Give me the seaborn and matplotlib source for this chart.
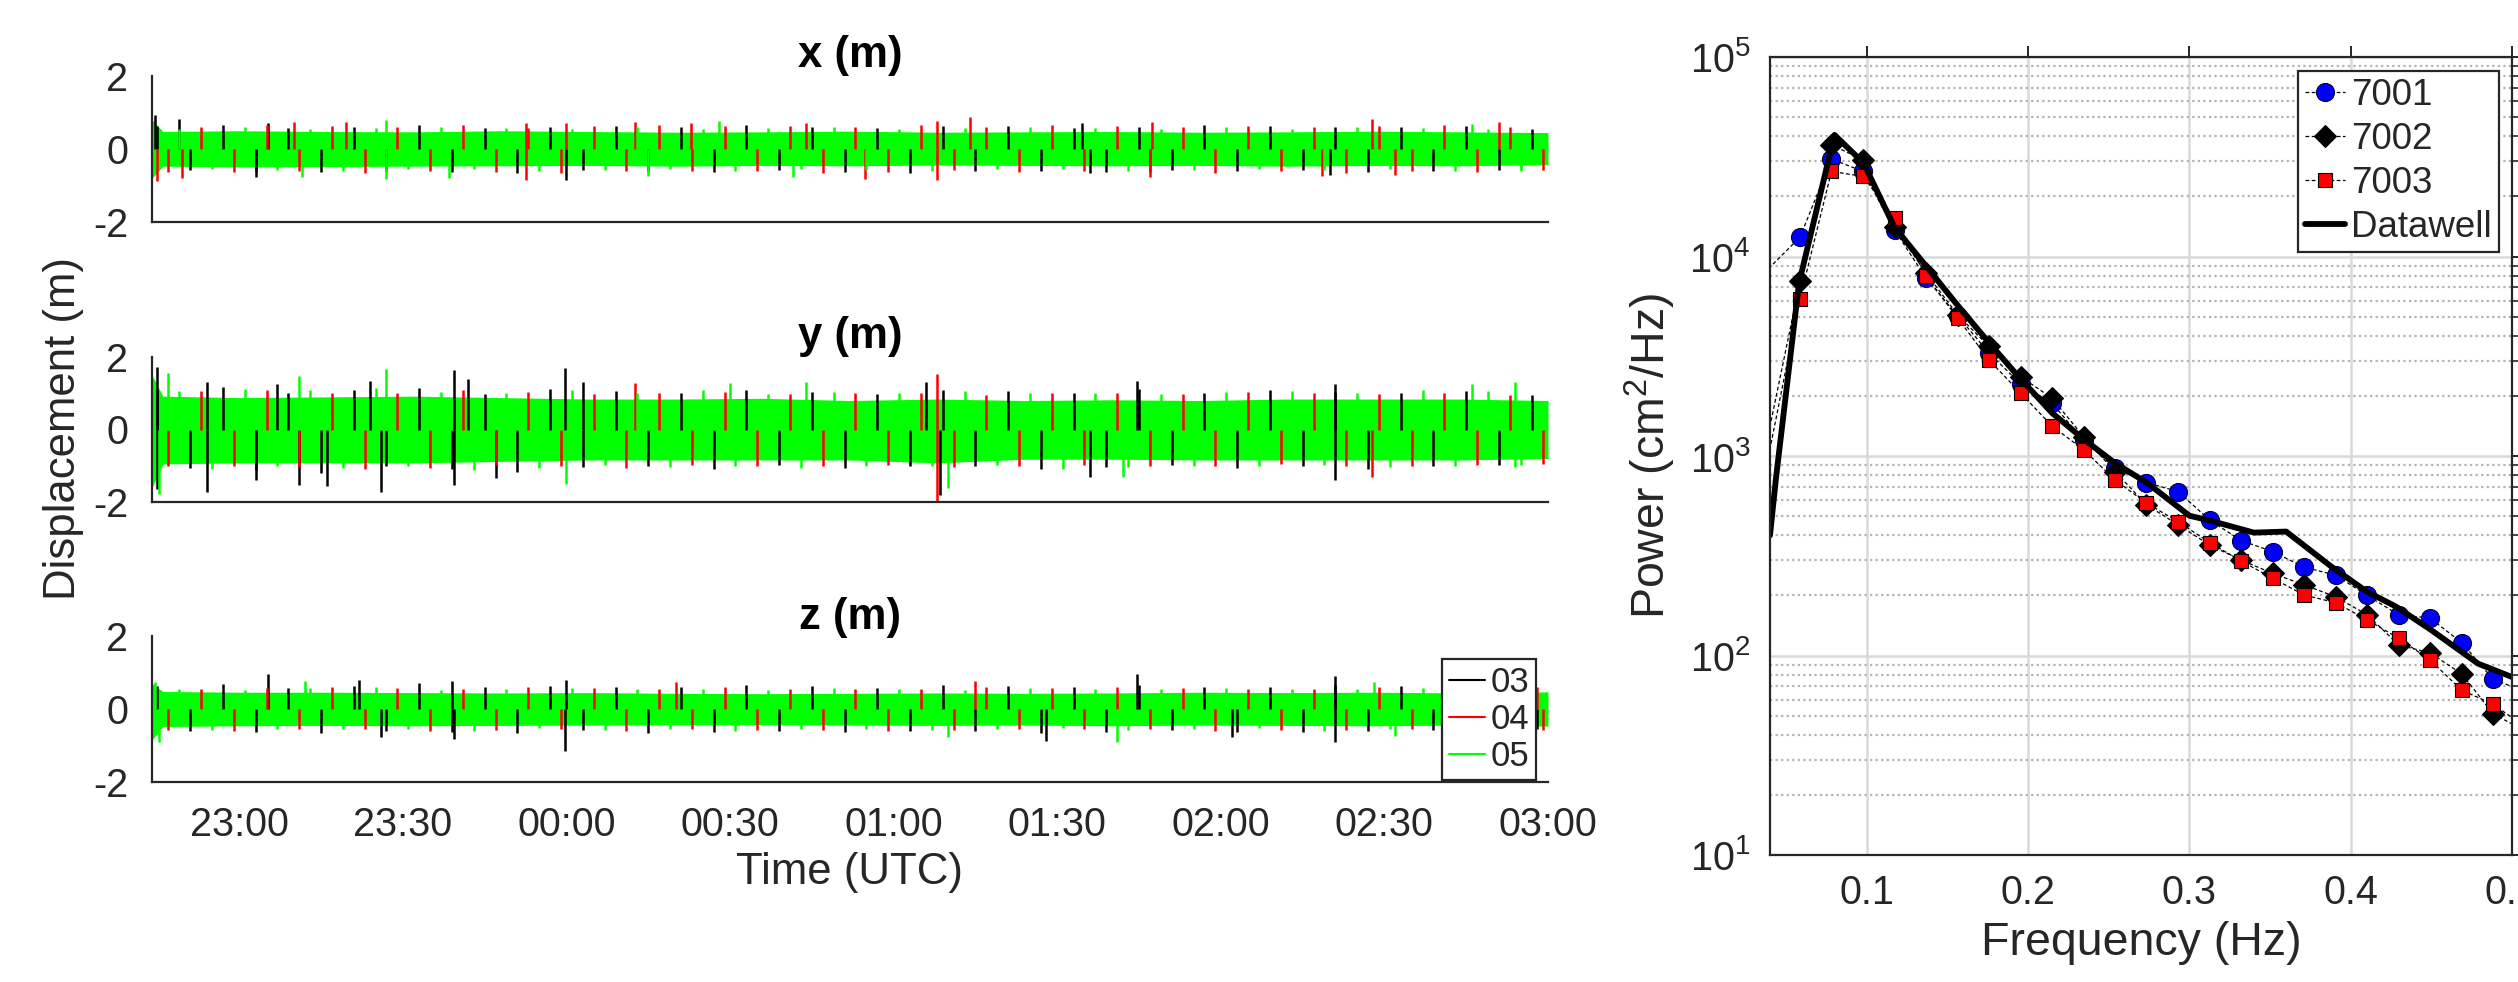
import numpy as np
import matplotlib
matplotlib.use("Agg")
import matplotlib.pyplot as plt
from matplotlib.lines import Line2D
from matplotlib.ticker import LogLocator, NullLocator, NullFormatter
import seaborn as sns

# ---------------- data : time series (minutes relative to 00:00 UTC) ----------------
T = [-76, -74, -60, -44, -28, -12, 4, 20, 36, 52, 68, 84, 100, 116, 132, 148, 164, 180]
time_ticks = [-60, -30, 0, 30, 60, 90, 120, 150, 180]
time_labels = ["23:00", "23:30", "00:00", "00:30", "01:00", "01:30", "02:00", "02:30", "03:00"]
series_names = ["03", "04", "05"]
series_colors = ["#000000", "#ff0000", "#00ff00"]

# sample times of the spike texture for each buoy (6-min spacing)
tex_t_03 = list(range(-75, 180, 6))
tex_t_04 = list(range(-73, 180, 6))
tex_t_05 = list(range(-71, 180, 6))

# ---- x (m) ----  dense green band envelope + spike peaks
x_05_hi = [0.80, 0.48, 0.50, 0.48, 0.47, 0.50, 0.48, 0.46, 0.47, 0.49, 0.46, 0.47, 0.48, 0.46, 0.47, 0.49, 0.47, 0.45]
x_05_lo = [-0.80, -0.47, -0.49, -0.48, -0.47, -0.46, -0.45, -0.47, -0.45, -0.46, -0.44, -0.45, -0.46, -0.45, -0.47, -0.45, -0.46, -0.43]
x_03_tex = [0.62, -0.58, 0.66, -0.61, 0.57, -0.64, 0.60, -0.59, 0.65, -0.62, 0.58, -0.66, 0.61, -0.57, 0.63, -0.60, 0.59,
            -0.63, 0.66, -0.58, 0.60, -0.62, 0.57, -0.65, 0.62, -0.59, 0.64, -0.61, 0.58, -0.63, 0.60, -0.57, 0.65, -0.60,
            0.62, -0.58, 0.59, -0.64, 0.61, -0.60, 0.63, -0.58, 0.56]
x_04_tex = [-0.64, 0.60, -0.62, 0.67, -0.59, 0.63, -0.66, 0.61, -0.60, 0.65, -0.63, 0.58, -0.67, 0.62, -0.60, 0.66, -0.61,
            0.64, -0.59, 0.62, -0.66, 0.60, -0.63, 0.65, -0.58, 0.61, -0.64, 0.67, -0.60, 0.63, -0.62, 0.59, -0.66, 0.64,
            -0.61, 0.60, -0.65, 0.62, -0.59, 0.66, -0.62, 0.60, -0.57]
x_05_tex = [0.56, -0.55, 0.60, -0.57, 0.54, -0.59, 0.58, -0.56, 0.61, -0.54, 0.57, -0.60, 0.55, -0.58, 0.59, -0.55, 0.56,
            -0.61, 0.58, -0.54, 0.60, -0.57, 0.55, -0.59, 0.57, -0.56, 0.61, -0.55, 0.58, -0.60, 0.54, -0.57, 0.59, -0.56,
            0.55, -0.58, 0.60, -0.54, 0.57, -0.59, 0.55, -0.53]
x_spk_t = [-75.5, -75, -71, -70.5, -57, -54.8, -50, -48.5, -40.5, -33, -33, -21.6, -7.5, -7.5, 0, 0, 12.5, 15, 22.8, 28,
           41.5, 44, 54.8, 68, 68, 74, 94.6, 96, 107.4, 107, 138.6, 140, 147.8, 152, 166, 171, 175]
x_spk_v = [0.94, -0.89, 0.82, -0.80, -0.77, 0.71, 0.73, -0.78, 0.74, 0.80, -0.81, -0.80, 0.71, -0.84, 0.71, -0.86, 0.74,
           -0.73, 0.71, 0.78, -0.77, 0.71, -0.82, 0.76, -0.86, 0.88, 0.71, -0.66, 0.73, -0.77, -0.73, -0.70, 0.83, -0.70,
           0.69, 0.73, -0.60]
x_spk_s = ["03", "04", "03", "04", "03", "03", "04", "05", "04", "05", "05", "05", "04", "04", "04", "03", "04", "05", "04",
           "05", "05", "04", "04", "04", "04", "04", "03", "03", "04", "04", "04", "03", "04", "04", "05", "04", "05"]

# ---- y (m) ----
y_05_hi = [1.50, 0.92, 0.88, 0.90, 0.92, 0.88, 0.84, 0.84, 0.86, 0.80, 0.84, 0.80, 0.82, 0.80, 0.84, 0.84, 0.84, 0.80]
y_05_lo = [-1.60, -0.95, -0.92, -0.92, -0.92, -0.88, -0.84, -0.84, -0.84, -0.84, -0.92, -0.82, -0.82, -0.84, -0.84, -0.84, -0.84, -0.80]
y_03_tex = [1.10, -1.05, 1.18, -1.12, 1.00, -1.20, 1.08, -1.02, 1.15, -1.10, 0.98, -1.16, 1.12, -1.04, 1.06, -1.00, 1.02,
            -1.08, 1.10, -0.98, 1.04, -1.06, 0.98, -1.02, 1.08, -1.00, 1.05, -1.10, 1.00, -1.04, 1.12, -0.98, 1.02, -1.06,
            1.08, -1.00, 1.04, -1.08, 1.00, -1.02, 1.06, -0.98, 0.96]
y_04_tex = [-1.02, 1.06, -1.00, 1.10, -1.04, 1.02, -1.08, 1.00, -1.05, 1.08, -0.98, 1.04, -1.02, 0.98, -1.06, 1.00, -0.98,
            1.04, -1.00, 0.98, -1.02, 1.00, -0.98, 1.02, -1.04, 0.96, -1.00, 1.02, -0.98, 1.00, -1.02, 0.98, -1.00, 1.04,
            -0.96, 1.00, -1.02, 0.98, -1.00, 1.02, -0.98, 0.96, -0.95]
y_05_tex = [1.05, -1.10, 1.12, -1.02, 1.08, -1.06, 1.15, -1.00, 1.04, -1.12, 1.00, -1.05, 1.08, -0.98, 1.02, -1.04, 1.10,
            -1.00, 0.98, -1.06, 1.04, -1.00, 1.00, -1.02, 1.06, -0.98, 1.02, -1.08, 1.00, -1.04, 0.98, -1.02, 1.04, -1.00,
            1.06, -0.98, 1.02, -1.04, 1.10, -1.00, 1.05, -0.98]
y_spk_t = [-75, -74.7, -75, -73, -66, -66, -57, -53, -49, -49, -44, -36, -33, -34, -20.7, -20.7, -18, -13, -0.3, 0, 3,
           12.5, 30, 44, 66, 68, 68, 68.5, 70, 96, 102, 104.6, 141, 141, 147.8, 166, 174, 174]
y_spk_v = [1.73, -1.77, -1.63, 1.55, 1.32, -1.72, -1.40, 1.25, 1.47, -1.54, -1.56, 1.35, 1.68, -1.72, 1.64, -1.54, 1.40,
           -1.35, 1.71, -1.49, 1.30, 1.27, 1.29, 1.30, 1.30, 1.53, -2.00, -1.81, -1.60, -1.31, -1.31, 1.34, 1.25, -1.40,
           -1.31, 1.25, 1.32, -1.03]
y_spk_s = ["03", "05", "03", "05", "03", "03", "03", "03", "05", "03", "03", "03", "05", "03", "03", "03", "03", "03", "03",
           "05", "03", "04", "05", "05", "03", "04", "04", "03", "05", "03", "05", "03", "03", "03", "04", "05", "05", "05"]

# ---- z (m) ----
z_05_hi = [0.70, 0.48, 0.46, 0.46, 0.45, 0.44, 0.45, 0.43, 0.42, 0.43, 0.44, 0.43, 0.44, 0.46, 0.45, 0.46, 0.44, 0.47]
z_05_lo = [-0.85, -0.48, -0.46, -0.45, -0.46, -0.45, -0.44, -0.43, -0.43, -0.44, -0.45, -0.44, -0.46, -0.44, -0.45, -0.46, -0.44, -0.47]
z_03_tex = [0.64, -0.60, 0.68, -0.62, 0.58, -0.66, 0.62, -0.59, 0.70, -0.63, 0.60, -0.67, 0.64, -0.58, 0.61, -0.65, 0.59,
            -0.62, 0.66, -0.60, 0.63, -0.64, 0.58, -0.61, 0.65, -0.59, 0.62, -0.66, 0.60, -0.63, 0.67, -0.58, 0.61, -0.64,
            0.59, -0.62, 0.66, -0.60, 0.63, -0.58, 0.61, -0.59, 0.57]
z_04_tex = [-0.58, 0.55, -0.60, 0.57, -0.54, 0.59, -0.56, 0.58, -0.61, 0.55, -0.57, 0.60, -0.55, 0.58, -0.59, 0.56, -0.54,
            0.60, -0.57, 0.55, -0.58, 0.56, -0.60, 0.54, -0.57, 0.59, -0.55, 0.58, -0.56, 0.60, -0.54, 0.57, -0.59, 0.55,
            -0.58, 0.56, -0.57, 0.60, -0.55, 0.58, -0.56, 0.62, -0.58]
z_05_tex = [0.55, -0.58, 0.53, -0.56, 0.57, -0.54, 0.59, -0.55, 0.52, -0.60, 0.56, -0.53, 0.58, -0.57, 0.54, -0.56, 0.55,
            -0.59, 0.53, -0.55, 0.57, -0.54, 0.56, -0.58, 0.52, -0.55, 0.58, -0.53, 0.55, -0.57, 0.54, -0.56, 0.58, -0.52,
            0.55, -0.59, 0.56, -0.54, 0.57, -0.53, 0.55, -0.52]
z_spk_t = [-75.5, -74.7, -54.8, -48, -38, -34, -21, -20.7, 0, -0.3, 20, 70, 75, 88, 101, 104.6, 122, 141, 141, 148, 152, 178, 178]
z_spk_v = [0.73, -0.91, 0.96, 0.78, 0.80, -0.78, 0.78, -0.82, 0.79, -1.14, 0.75, -0.78, 0.78, -0.87, -0.91, 0.96, -0.78,
           0.91, -0.91, 0.75, -0.73, 0.60, -0.55]
z_spk_s = ["05", "05", "03", "05", "03", "03", "03", "03", "03", "03", "04", "05", "04", "03", "05", "03", "03", "03", "03",
           "05", "05", "04", "03"]

# ---------------- data : spectra ----------------
freq = [0.0391, 0.0586, 0.0781, 0.0977, 0.1172, 0.1367, 0.1563, 0.1758, 0.1953, 0.2148, 0.2344, 0.2539, 0.2734,
        0.2930, 0.3125, 0.3320, 0.3516, 0.3711, 0.3906, 0.4102, 0.4297, 0.4492, 0.4688, 0.4883, 0.5078]
P7001 = [8700, 12500, 30800, 26700, 13600, 7800, 5040, 3280, 2300, 1840, 1200, 869, 736, 663, 478, 377, 332, 277, 253,
         200, 160, 154, 116, 76, 66]
P7002 = [1300, 7500, 36300, 30500, 14000, 8260, 5100, 3540, 2500, 1950, 1250, 835, 569, 452, 358, 301, 258, 226, 197,
         160, 113, 103, 81, 51, 42]
P7003 = [1000, 6140, 26700, 25200, 15600, 8000, 4910, 3030, 2070, 1415, 1075, 759, 580, 469, 368, 298, 244, 201, 184,
         151, 122, 95, 67, 57, 44]
dw_freq = [0.040, 0.0436, 0.058, 0.080, 0.098, 0.117, 0.137, 0.156, 0.176, 0.195, 0.215, 0.235, 0.254, 0.274, 0.300,
           0.313, 0.340, 0.360, 0.388, 0.410, 0.428, 0.450, 0.479, 0.500]
dw_P = [400, 760, 7360, 40700, 29400, 14100, 8900, 5730, 3680, 2450, 1640, 1205, 920, 731, 502, 474, 413, 418, 279,
        209, 176, 134, 91, 78]
freq_ticks = [0.1, 0.2, 0.3, 0.4, 0.5]
freq_labels = ["0.1", "0.2", "0.3", "0.4", "0.5"]

# ---------------- style ----------------
sns.set_theme(style="white")
plt.rcParams["font.family"] = ["Liberation Sans", "DejaVu Sans"]
plt.rcParams["mathtext.fontset"] = "custom"
plt.rcParams["mathtext.rm"] = "Liberation Sans"
plt.rcParams["mathtext.it"] = "Liberation Sans:italic"
plt.rcParams["mathtext.bf"] = "Liberation Sans:bold"
plt.rcParams["axes.unicode_minus"] = False
AX = "#262626"

W, H = 2518, 982
fig = plt.figure(figsize=(W / 100, H / 100), dpi=100)


def fbox(x0, y0, x1, y1):
    return [x0 / W, 1 - y1 / H, (x1 - x0) / W, (y1 - y0) / H]


tex_times = [tex_t_03, tex_t_04, tex_t_05]
panels = [
    ("x (m)", fbox(152, 76, 1548, 222), (x_05_hi, x_05_lo), [x_03_tex, x_04_tex, x_05_tex],
     (x_spk_t, x_spk_v, x_spk_s)),
    ("y (m)", fbox(152, 357, 1548, 502), (y_05_hi, y_05_lo), [y_03_tex, y_04_tex, y_05_tex],
     (y_spk_t, y_spk_v, y_spk_s)),
    ("z (m)", fbox(152, 636, 1548, 782), (z_05_hi, z_05_lo), [z_03_tex, z_04_tex, z_05_tex],
     (z_spk_t, z_spk_v, z_spk_s)),
]

axes_ts = []
for i, (title, rect, env, texs, spk) in enumerate(panels):
    ax = fig.add_axes(rect)
    st = np.array(spk[0]); sv = np.array(spk[1]); ss = np.array(spk[2])
    for name, col, tt, tv in zip(series_names, series_colors, tex_times, texs):
        if name == "05":
            ax.fill_between(T, env[1], env[0], color=col, lw=0)
        ax.vlines(tt[:len(tv)], 0, tv, color=col, lw=1.8)
        m = ss == name
        ax.vlines(st[m], 0, sv[m], color=col, lw=1.8)
    ax.set_xlim(-76, 180)
    ax.set_ylim(-2, 2)
    ax.set_yticks([-2, 0, 2])
    ax.set_yticklabels(["-2", "0", "2"])
    ax.set_xticks(time_ticks)
    if i == 2:
        ax.set_xticklabels(time_labels)
        ax.set_xlabel("Time (UTC)", fontsize=31.5, color=AX, labelpad=6)
    else:
        ax.set_xticklabels([])
    ax.set_title(title, fontsize=31.5, fontweight="bold", color="black", pad=5)
    for s in ["top", "right"]:
        ax.spines[s].set_visible(False)
    for s in ["left", "bottom"]:
        ax.spines[s].set_color(AX)
        ax.spines[s].set_linewidth(1.6)
    ax.tick_params(axis="both", direction="out", length=11, width=1.6, colors=AX, labelsize=28.5, pad=6)
    ax.set_facecolor("white")
    axes_ts.append(ax)

fig.text(64 / W, 1 - 429 / H, "Displacement (m)", rotation=90, ha="center", va="center",
         fontsize=31.5, color=AX)

leg_handles = [Line2D([0], [0], color=c, lw=1.5) for c in series_colors]
leg1 = axes_ts[2].legend(leg_handles, series_names, loc="lower right",
                         bbox_to_anchor=((1536 - 152) / 1396, 2 / 146), borderaxespad=0,
                         fontsize=25, frameon=True, fancybox=False, framealpha=1,
                         handlelength=1.05, handletextpad=0.15, labelspacing=0.12, borderpad=0.2)
leg1.get_frame().set_edgecolor(AX)
leg1.get_frame().set_linewidth(1.6)
leg1.set_zorder(10)

# ---------------- spectrum panel ----------------
axs = fig.add_axes(fbox(1770, 57, 2512, 855))
axs.set_yscale("log")
axs.set_axisbelow(True)

mk = slice(1, len(freq) - 1)
sns.lineplot(x=freq, y=P7001, ax=axs, sort=False, estimator=None, errorbar=None, color="black", lw=0.9,
             linestyle=(0, (3, 2)), marker="o", markersize=13, markerfacecolor="#0000ff",
             markeredgecolor="#000033", markeredgewidth=0.8, markevery=mk, label="7001")
sns.lineplot(x=freq, y=P7002, ax=axs, sort=False, estimator=None, errorbar=None, color="black", lw=0.9,
             linestyle=(0, (3, 2)), marker="D", markersize=11, markerfacecolor="black",
             markeredgecolor="black", markeredgewidth=0.8, markevery=mk, label="7002")
sns.lineplot(x=freq, y=P7003, ax=axs, sort=False, estimator=None, errorbar=None, color="black", lw=0.9,
             linestyle=(0, (3, 2)), marker="s", markersize=10, markerfacecolor="#ff0000",
             markeredgecolor="black", markeredgewidth=0.8, markevery=mk, label="7003")
sns.lineplot(x=dw_freq, y=dw_P, ax=axs, sort=False, estimator=None, errorbar=None, color="black", lw=4.2,
             label="Datawell")

axs.set_xlim(0.04, 0.5)
axs.set_ylim(10, 1e5)
axs.set_xticks(freq_ticks)
axs.set_xticklabels(freq_labels)
axs.xaxis.set_minor_locator(NullLocator())
axs.yaxis.set_major_locator(LogLocator(base=10, numticks=10))
axs.yaxis.set_minor_locator(LogLocator(base=10, subs=np.arange(2, 10), numticks=50))
axs.yaxis.set_minor_formatter(NullFormatter())
axs.grid(True, which="major", axis="both", color="#d9d9d9", lw=1.8, ls="-")
axs.grid(True, which="minor", axis="y", color="#b3b3b3", lw=1.6, ls=(0, (1, 1.5)))
for s in axs.spines.values():
    s.set_color(AX)
    s.set_linewidth(1.6)
axs.tick_params(which="major", direction="out", length=8, width=1.4, colors=AX, labelsize=28.5,
                top=True, right=True, pad=6)
axs.tick_params(which="minor", direction="out", length=4.5, width=1.2, colors=AX, top=False, right=True)
axs.set_xlabel("Frequency (Hz)", fontsize=33.5, color=AX, labelpad=6)
axs.set_ylabel("Power (cm$^2$/Hz)", fontsize=33.5, color=AX, labelpad=8)

leg2 = axs.legend(loc="upper right", bbox_to_anchor=((2499 - 1770) / 742, (855 - 71) / 798), borderaxespad=0,
                  fontsize=26.5, frameon=True, fancybox=False, framealpha=1,
                  handlelength=1.1, handletextpad=0.15, labelspacing=0.24, borderpad=0.2)
leg2.get_frame().set_edgecolor(AX)
leg2.get_frame().set_linewidth(1.6)

fig.savefig("out.png", dpi=100, facecolor="white")
